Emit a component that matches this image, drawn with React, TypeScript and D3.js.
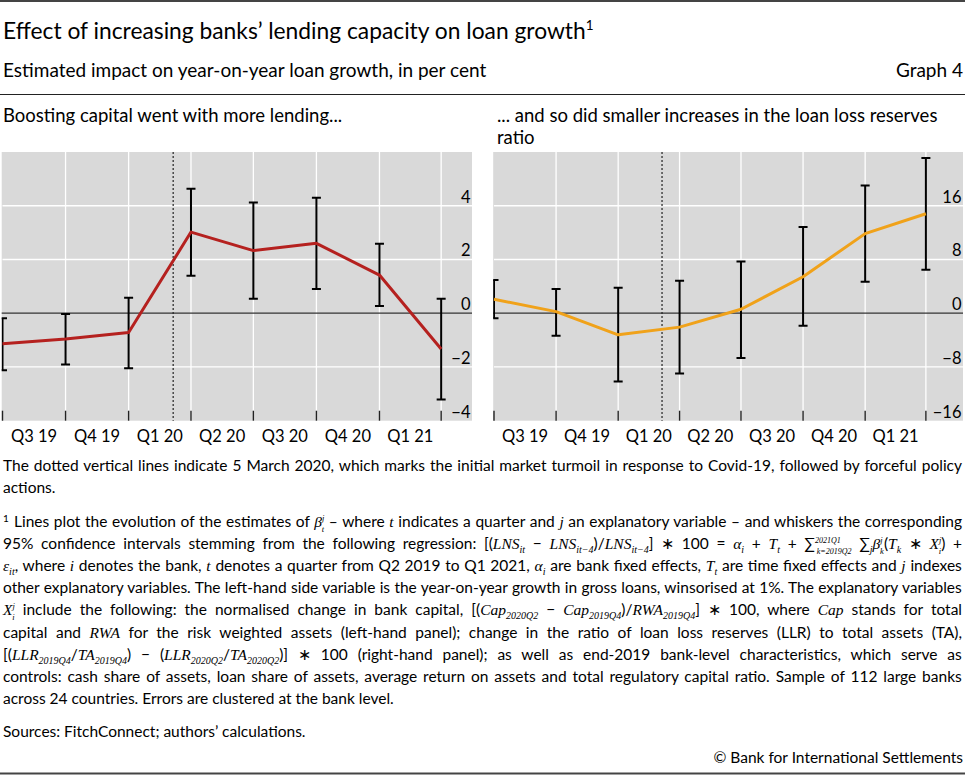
import React, { useEffect, useRef } from 'react';
import * as d3 from 'd3';

// quarter labels sit between the quarter-end points
const quarterLabels = ['Q3 19', 'Q4 19', 'Q1 20', 'Q2 20', 'Q3 20', 'Q4 20', 'Q1 21'];
const quarterEnds = [
  '2019-06-30',
  '2019-09-30',
  '2019-12-31',
  '2020-03-31',
  '2020-06-30',
  '2020-09-30',
  '2020-12-31',
  '2021-03-31',
];
const eventDate = '2020-03-05';

// left panel: normalised change in bank capital
const capitalEstimate = [-1.14, -0.96, -0.72, 3.02, 2.33, 2.6, 1.42, -1.33];
const capitalLower = [-2.12, -1.91, -2.05, 1.39, 0.54, 0.9, 0.27, -3.21];
const capitalUpper = [-0.19, -0.03, 0.58, 4.63, 4.12, 4.3, 2.59, 0.54];
const capitalTicks = [-4, -2, 0, 2, 4];

// right panel: change in loan loss reserves ratio
const llrEstimate = [2.07, 0.24, -3.21, -2.07, 0.59, 5.43, 11.85, 14.81];
const llrLower = [-0.74, -3.36, -10.17, -8.99, -6.67, -1.88, 4.69, 6.47];
const llrUpper = [4.93, 3.6, 3.8, 4.84, 7.7, 12.84, 19.0, 23.1];
const llrTicks = [-16, -8, 0, 8, 16];

const FONT = "Lato, 'Noto Sans', sans-serif";
const MATH = "'Liberation Serif', 'DejaVu Serif', serif";

interface PanelProps {
  id: string;
  estimate: number[];
  lower: number[];
  upper: number[];
  ticks: number[];
  yDomain: [number, number];
  color: string;
  left: number;
  right: number;
  axisEnd: string;
}

const TOP = 152;
const BOTTOM = 420.7;

const Panel: React.FC<PanelProps> = ({
  id,
  estimate,
  lower,
  upper,
  ticks,
  yDomain,
  color,
  left,
  right,
  axisEnd,
}) => {
  const gRef = useRef<SVGGElement>(null);

  useEffect(() => {
    if (!gRef.current) return;
    const g = d3.select(gRef.current);
    g.selectAll('*').remove();

    const parse = d3.utcParse('%Y-%m-%d');
    const dates = quarterEnds.map((d) => parse(d) as Date);
    const x = d3
      .scaleUtc()
      .domain([dates[0], parse(axisEnd) as Date])
      .range([left, right]);
    const y = d3.scaleLinear().domain(yDomain).range([BOTTOM, TOP]);

    g.append('rect')
      .attr('x', left - 0.8)
      .attr('y', TOP)
      .attr('width', right - left + 0.8)
      .attr('height', BOTTOM - TOP)
      .attr('fill', '#d9d9d9');

    g.append('clipPath')
      .attr('id', `clip-${id}`)
      .append('rect')
      .attr('x', left - 0.8)
      .attr('y', TOP)
      .attr('width', right - left + 0.8)
      .attr('height', BOTTOM - TOP);

    // white grid
    g.selectAll('.hgrid')
      .data(ticks.filter((t) => t !== 0 && t !== yDomain[0]))
      .enter()
      .append('line')
      .attr('x1', left)
      .attr('x2', right)
      .attr('y1', (d) => y(d))
      .attr('y2', (d) => y(d))
      .style('stroke', '#fff')
      .style('stroke-width', 1.3);

    g.selectAll('.vgrid')
      .data(dates.slice(1))
      .enter()
      .append('line')
      .attr('x1', (d) => x(d))
      .attr('x2', (d) => x(d))
      .attr('y1', TOP)
      .attr('y2', BOTTOM)
      .style('stroke', '#fff')
      .style('stroke-width', 1.3);

    // zero line
    g.append('line')
      .attr('x1', left - 0.8)
      .attr('x2', right)
      .attr('y1', y(0))
      .attr('y2', y(0))
      .style('stroke', '#333')
      .style('stroke-width', 1.2);

    // tick marks at the bottom
    g.selectAll('.tick')
      .data(dates)
      .enter()
      .append('line')
      .attr('x1', (d) => x(d))
      .attr('x2', (d) => x(d))
      .attr('y1', BOTTOM - 10)
      .attr('y2', BOTTOM)
      .style('stroke', '#222')
      .style('stroke-width', 1.4);

    // 5 March 2020
    const ev = x(parse(eventDate) as Date);
    g.append('line')
      .attr('x1', ev)
      .attr('x2', ev)
      .attr('y1', TOP)
      .attr('y2', BOTTOM)
      .style('stroke', '#222')
      .style('stroke-width', 1.2)
      .style('stroke-dasharray', '2,2');

    const plot = g.append('g').attr('clip-path', `url(#clip-${id})`);

    // whiskers
    const bars = plot
      .selectAll('.bar')
      .data(dates.map((d, i) => ({ d, lo: lower[i], hi: upper[i] })))
      .enter()
      .append('g');
    bars
      .append('line')
      .attr('x1', (b) => x(b.d))
      .attr('x2', (b) => x(b.d))
      .attr('y1', (b) => y(b.hi))
      .attr('y2', (b) => y(b.lo))
      .style('stroke', '#000')
      .style('stroke-width', 2);
    ['hi', 'lo'].forEach((k) => {
      bars
        .append('line')
        .attr('x1', (b) => x(b.d) - 4.5)
        .attr('x2', (b) => x(b.d) + 4.5)
        .attr('y1', (b: any) => y(b[k]))
        .attr('y2', (b: any) => y(b[k]))
        .style('stroke', '#000')
        .style('stroke-width', 2);
    });

    const line = d3
      .line<number>()
      .x((_, i) => x(dates[i]))
      .y((v) => y(v));
    plot
      .append('path')
      .attr('d', line(estimate))
      .style('fill', 'none')
      .style('stroke', color)
      .style('stroke-width', 3)
      .style('stroke-linejoin', 'round');

    // y labels inside the plot, on the right
    g.selectAll('.ylab')
      .data(ticks)
      .enter()
      .append('text')
      .attr('x', right - 1.5)
      .attr('y', (d) => y(d) - 3)
      .attr('text-anchor', 'end')
      .style('font-family', FONT)
      .style('font-size', '16.5px')
      .style('fill', '#000')
      .text((d) => (d < 0 ? `\u2212${-d}` : `${d}`));

    // quarter labels
    g.selectAll('.xlab')
      .data(quarterLabels)
      .enter()
      .append('text')
      .attr('x', (_, i) => (x(dates[i]) + x(dates[i + 1])) / 2)
      .attr('y', 442)
      .attr('text-anchor', 'middle')
      .style('font-family', FONT)
      .style('font-size', '16.5px')
      .style('fill', '#000')
      .text((d) => d);
  }, [id, estimate, lower, upper, ticks, yDomain, color, left, right, axisEnd]);

  return <g ref={gRef} />;
};

const It: React.FC<{ children: React.ReactNode }> = ({ children }) => (
  <tspan fontFamily={MATH} fontStyle="italic">
    {children}
  </tspan>
);
const Sub: React.FC<{ children: React.ReactNode; dx?: number; size?: number; shift?: number }> = ({
  children,
  dx,
  size = 10,
  shift = -3.5,
}) => (
  <tspan baselineShift={shift} fontSize={size} dx={dx}>
    {children}
  </tspan>
);
const Sup: React.FC<{ children: React.ReactNode; size?: number; shift?: number }> = ({
  children,
  size = 10,
  shift = 5.5,
}) => (
  <tspan baselineShift={shift} fontSize={size}>
    {children}
  </tspan>
);

// stacked super/subscript pair (e.g. β with j above and t below)
const Stack: React.FC<{ sup: string; sub: string; back: number; size?: number }> = ({
  sup,
  sub,
  back,
  size = 8.5,
}) => (
  <>
    <Sup size={size} shift={6.5}>
      <It>{sup}</It>
    </Sup>
    <Sub size={size} shift={-4.5} dx={-back}>
      <It>{sub}</It>
    </Sub>
  </>
);

const FOOT_TOP = 527;
const FOOT_STEP = 22.1;

export default function App() {
  const svgRef = useRef<SVGSVGElement>(null);

  useEffect(() => {
    const justify = () => {
      if (!svgRef.current) return;
      d3.select(svgRef.current)
        .selectAll<SVGTextElement, unknown>('text.justify')
        .each(function () {
          this.style.wordSpacing = '0px';
          const box = this.getBBox();
          const spaces = (this.textContent || '').trim().split(/\s+/).length - 1;
          if (spaces > 0) {
            this.style.wordSpacing = `${(962 - (box.x + box.width)) / spaces}px`;
          }
        });
    };
    justify();
    if (document.fonts) document.fonts.ready.then(justify);
  }, []);

  const foot = (k: number) => FOOT_TOP + k * FOOT_STEP;
  const fs = 15.5;

  return (
    <svg
      ref={svgRef}
      width={965}
      height={775}
      style={{ position: 'absolute', left: 0, top: 0, background: '#fff' }}
      fontFamily={FONT}
    >
      <line x1={0} x2={965} y1={1} y2={1} stroke="#444" strokeWidth={2} />
      <text x={3} y={39} fontSize={22.8} fill="#000">
        Effect of increasing banks’ lending capacity on loan growth
        <tspan dy={-9} fontSize={13.5}>
          1
        </tspan>
      </text>
      <text x={3} y={77} fontSize={19} fill="#000">
        Estimated impact on year-on-year loan growth, in per cent
      </text>
      <text x={963} y={77} fontSize={19} fill="#000" textAnchor="end">
        Graph 4
      </text>
      <line x1={0} x2={965} y1={94.5} y2={94.5} stroke="#222" strokeWidth={1.2} />
      <text x={3} y={121.5} fontSize={18.5} fill="#000">
        Boosting capital went with more lending...
      </text>
      <text x={497} y={121.5} fontSize={18.5} fill="#000">
        ... and so did smaller increases in the loan loss reserves
      </text>
      <text x={497} y={144} fontSize={18.5} fill="#000">
        ratio
      </text>

      <Panel
        id="capital"
        estimate={capitalEstimate}
        lower={capitalLower}
        upper={capitalUpper}
        ticks={capitalTicks}
        yDomain={[-4, 6]}
        color="#b5211f"
        left={2.5}
        right={472}
        axisEnd="2021-05-15"
      />
      <Panel
        id="llr"
        estimate={llrEstimate}
        lower={llrLower}
        upper={llrUpper}
        ticks={llrTicks}
        yDomain={[-16, 24]}
        color="#f0a21a"
        left={494}
        right={963}
        axisEnd="2021-05-25"
      />

      <g fontSize={fs} fill="#000">
        <text className="justify" x={3} y={471}>
          The dotted vertical lines indicate 5 March 2020, which marks the initial market turmoil in
          response to Covid-19, followed by forceful policy
        </text>
        <text x={3} y={493}>
          actions.
        </text>

        <text x={3} y={foot(0) - 5} fontSize={10}>
          1
        </text>
        <text className="justify" x={14} y={foot(0)}>
          Lines plot the evolution of the estimates of <It>β</It>
          <Stack sup="j" sub="t" back={2.5} />{' '}
          – where <It>t</It> indicates a quarter and <It>j</It> an explanatory variable – and
          whiskers the corresponding
        </text>
        <text className="justify" x={3} y={foot(1)}>
          95% confidence intervals stemming from the following regression: [(<It>LNS</It>
          <Sub>
            <It>it</It>
          </Sub>{' '}
          − <It>LNS</It>
          <Sub>
            <It>it−4</It>
          </Sub>
          )/<It>LNS</It>
          <Sub>
            <It>it−4</It>
          </Sub>
          ] ∗ 100 = <It>α</It>
          <Sub>
            <It>i</It>
          </Sub>{' '}
          + <It>T</It>
          <Sub>
            <It>t</It>
          </Sub>{' '}
          + ∑
          <Stack sup="2021Q1" sub="k=2019Q2" back={24} size={8} />{' '}
          ∑
          <Sub>
            <It>j</It>
          </Sub>
          <It>β</It>
          <Stack sup="j" sub="k" back={2.5} />
          (<It>T</It>
          <Sub>
            <It>k</It>
          </Sub>{' '}
          ∗ <It>X</It>
          <Stack sup="j" sub="i" back={2.5} />
          ) +
        </text>
        <text className="justify" x={3} y={foot(2)}>
          <It>ε</It>
          <Sub>
            <It>it</It>
          </Sub>
          , where <It>i</It> denotes the bank, <It>t</It> denotes a quarter from Q2 2019 to Q1 2021,{' '}
          <It>α</It>
          <Sub>
            <It>i</It>
          </Sub>{' '}
          are bank fixed effects, <It>T</It>
          <Sub>
            <It>t</It>
          </Sub>{' '}
          are time fixed effects and <It>j</It> indexes
        </text>
        <text className="justify" x={3} y={foot(3)}>
          other explanatory variables. The left-hand side variable is the year-on-year growth in
          gross loans, winsorised at 1%. The explanatory variables
        </text>
        <text className="justify" x={3} y={foot(4)}>
          <It>X</It>
          <Stack sup="j" sub="i" back={2.5} />{' '}
          include the following: the normalised change in bank capital, [(<It>Cap</It>
          <Sub>
            <It>2020Q2</It>
          </Sub>{' '}
          − <It>Cap</It>
          <Sub>
            <It>2019Q4</It>
          </Sub>
          )/<It>RWA</It>
          <Sub>
            <It>2019Q4</It>
          </Sub>
          ] ∗ 100, where <It>Cap</It> stands for total
        </text>
        <text className="justify" x={3} y={foot(5)}>
          capital and <It>RWA</It> for the risk weighted assets (left-hand panel); change in the
          ratio of loan loss reserves (LLR) to total assets (TA),
        </text>
        <text className="justify" x={3} y={foot(6)}>
          [(<It>LLR</It>
          <Sub>
            <It>2019Q4</It>
          </Sub>
          /<It>TA</It>
          <Sub>
            <It>2019Q4</It>
          </Sub>
          ) − (<It>LLR</It>
          <Sub>
            <It>2020Q2</It>
          </Sub>
          /<It>TA</It>
          <Sub>
            <It>2020Q2</It>
          </Sub>
          )] ∗ 100 (right-hand panel); as well as end-2019 bank-level characteristics, which serve
          as
        </text>
        <text className="justify" x={3} y={foot(7)}>
          controls: cash share of assets, loan share of assets, average return on assets and total
          regulatory capital ratio. Sample of 112 large banks
        </text>
        <text x={3} y={foot(8)}>
          across 24 countries. Errors are clustered at the bank level.
        </text>

        <text x={3} y={737}>
          Sources: FitchConnect; authors’ calculations.
        </text>
        <text x={963} y={763} textAnchor="end">
          © Bank for International Settlements
        </text>
      </g>
      <line x1={0} x2={965} y1={773.5} y2={773.5} stroke="#444" strokeWidth={2} />
    </svg>
  );
}
